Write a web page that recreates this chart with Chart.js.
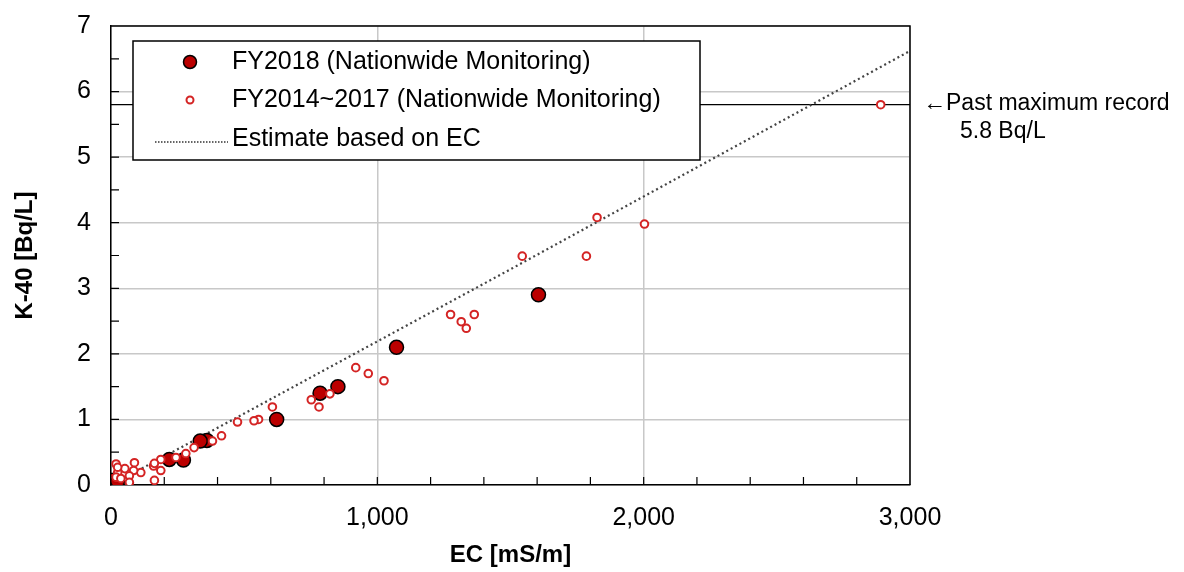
<!DOCTYPE html>
<html>
<head>
<meta charset="utf-8">
<script src="https://cdn.jsdelivr.net/npm/chart.js@4/dist/chart.umd.min.js"></script>
<style>
    html, body { margin: 0; padding: 0; background: #fff; }
    #wrap { width: 1184px; height: 572px; }
</style>
</head>
<body>
<div id="wrap"><canvas id="grafico"></canvas></div>
<script>
const fy2018EC = [1605, 1072, 852, 785, 622, 360, 335, 272, 219, 6, 12, 19, 25];
const fy2018K = [2.9, 2.1, 1.5, 1.4, 1.0, 0.68, 0.67, 0.38, 0.39, 0.07, 0.03, 0.04, 0.06];

const pastEC = [2890, 2003, 1825, 1785, 1544, 1364, 1334, 1315, 1275, 1025, 966, 919, 822, 781, 752, 606, 554, 537, 475, 415, 381, 312, 281, 244, 187, 187, 160, 163, 163, 112, 88, 85, 69, 52, 25, 19, 19, 25, 37, 69];
const pastK = [5.8, 3.98, 4.08, 3.49, 3.49, 2.6, 2.39, 2.49, 2.6, 1.59, 1.7, 1.79, 1.39, 1.19, 1.3, 1.19, 1.0, 0.98, 0.96, 0.75, 0.67, 0.57, 0.48, 0.42, 0.39, 0.22, 0.29, 0.07, 0.33, 0.19, 0.34, 0.22, 0.14, 0.25, 0.19, 0.32, 0.12, 0.27, 0.10, 0.04];

const estimateEC = [0, 500, 1000, 1500, 2000, 2500, 3000];
const estimateK = [0, 1.09, 2.19, 3.29, 4.40, 5.51, 6.62];

const maxRecordEC = [0, 3000];
const maxRecordK = [5.8, 5.8];

const xTicks = [0, 1000, 2000, 3000];
const yTicks = [0, 1, 2, 3, 4, 5, 6, 7];

const legendLabels = ['FY2018 (Nationwide Monitoring)', 'FY2014~2017 (Nationwide Monitoring)', 'Estimate based on EC'];
const noteLines = ['\u2190Past maximum record', '5.8 Bq/L'];

const FONT = '"Liberation Sans", Arial, sans-serif';
const RED_FILL = '#bb0000';
const RED_RING = '#d42424';

function toPoints(xs, ys) {
    return xs.map((x, i) => ({ x, y: ys[i] }));
}

// marco superior/derecho y ticks menores hacia adentro
const framePlugin = {
    id: 'frame',
    beforeDatasetsDraw(chart) {
        const { ctx, chartArea: a, scales } = chart;
        ctx.save();
        ctx.strokeStyle = '#000';
        ctx.lineWidth = 1.5;
        ctx.beginPath();
        ctx.moveTo(a.left, a.top);
        ctx.lineTo(a.right, a.top);
        ctx.lineTo(a.right, a.bottom);
        ctx.stroke();

        ctx.lineWidth = 1.2;
        ctx.beginPath();
        for (let v = 200; v < 3000; v += 200) {
            const px = scales.x.getPixelForValue(v);
            ctx.moveTo(px, a.bottom);
            ctx.lineTo(px, a.bottom - 8);
        }
        for (let v = 0.5; v < 7; v += 0.5) {
            const py = scales.y.getPixelForValue(v);
            ctx.moveTo(a.left, py);
            ctx.lineTo(a.left + 8, py);
        }
        ctx.stroke();
        ctx.restore();
    }
};

const legendBoxPlugin = {
    id: 'legendBox',
    afterDatasetsDraw(chart) {
        const { ctx } = chart;
        const box = { x: 133, y: 41, w: 567, h: 119 };
        const rows = [62, 100, 139];
        ctx.save();
        ctx.fillStyle = '#fff';
        ctx.fillRect(box.x, box.y, box.w, box.h);
        ctx.strokeStyle = '#000';
        ctx.lineWidth = 1.5;
        ctx.strokeRect(box.x, box.y, box.w, box.h);

        // FY2018
        ctx.beginPath();
        ctx.arc(190, rows[0], 6.5, 0, Math.PI * 2);
        ctx.fillStyle = RED_FILL;
        ctx.fill();
        ctx.lineWidth = 1.5;
        ctx.strokeStyle = '#000';
        ctx.stroke();

        // FY2014~2017
        ctx.beginPath();
        ctx.arc(190, rows[1], 3.5, 0, Math.PI * 2);
        ctx.fillStyle = '#fff';
        ctx.fill();
        ctx.lineWidth = 2;
        ctx.strokeStyle = RED_RING;
        ctx.stroke();

        // linea punteada
        ctx.beginPath();
        ctx.setLineDash([1.5, 1.5]);
        ctx.lineWidth = 1.5;
        ctx.strokeStyle = '#333';
        ctx.moveTo(155, rows[2] + 3);
        ctx.lineTo(228, rows[2] + 3);
        ctx.stroke();
        ctx.setLineDash([]);

        ctx.fillStyle = '#000';
        ctx.font = '25px ' + FONT;
        ctx.textBaseline = 'middle';
        ctx.textAlign = 'left';
        legendLabels.forEach((txt, i) => ctx.fillText(txt, 232, rows[i]));
        ctx.restore();
    }
};

const notePlugin = {
    id: 'note',
    afterDraw(chart) {
        const { ctx, chartArea: a, scales } = chart;
        const y = scales.y.getPixelForValue(5.8);
        ctx.save();
        ctx.fillStyle = '#000';
        ctx.font = '23px ' + FONT;
        ctx.textBaseline = 'middle';
        ctx.textAlign = 'left';
        ctx.fillText(noteLines[0], a.right + 13, y - 1);
        ctx.fillText(noteLines[1], a.right + 50, y + 27);
        ctx.restore();
    }
};

const chart = new Chart(document.getElementById('grafico'), {
    type: 'scatter',
    data: {
        datasets: [
            {
                label: legendLabels[1],
                data: toPoints(pastEC, pastK),
                pointRadius: 3.8,
                pointBackgroundColor: '#fff',
                pointBorderColor: RED_RING,
                pointBorderWidth: 2,
                order: 0
            },
            {
                label: legendLabels[0],
                data: toPoints(fy2018EC, fy2018K),
                pointRadius: 7,
                pointBackgroundColor: RED_FILL,
                pointBorderColor: '#000',
                pointBorderWidth: 1.5,
                order: 1
            },
            {
                label: legendLabels[2],
                data: toPoints(estimateEC, estimateK),
                showLine: true,
                pointRadius: 0,
                borderColor: '#444',
                borderWidth: 2.2,
                borderDash: [2, 3],
                order: 2
            },
            {
                label: 'max',
                data: toPoints(maxRecordEC, maxRecordK),
                showLine: true,
                pointRadius: 0,
                borderColor: '#000',
                borderWidth: 1.2,
                order: 3
            }
        ]
    },
    options: {
        responsive: true,
        maintainAspectRatio: false,
        animation: false,
        layout: { padding: { top: 26, right: 274, left: 0, bottom: 0 } },
        plugins: {
            legend: { display: false },
            tooltip: { enabled: false }
        },
        scales: {
            x: {
                type: 'linear',
                min: 0,
                max: 3000,
                afterBuildTicks: (s) => { s.ticks = xTicks.map((v) => ({ value: v })); },
                afterFit: (s) => { s.height = 87; },
                grid: { color: '#c8c8c8', lineWidth: 1.5, drawTicks: false },
                border: { color: '#000', width: 1.5 },
                ticks: {
                    color: '#000',
                    padding: 18,
                    font: { family: FONT, size: 25 },
                    callback: (v) => v.toLocaleString('en-US')
                },
                title: {
                    display: true,
                    text: 'EC [mS/m]',
                    color: '#000',
                    font: { family: FONT, size: 24, weight: 'bold' },
                    padding: { top: 0, bottom: 2 }
                }
            },
            y: {
                type: 'linear',
                min: 0,
                max: 7,
                afterBuildTicks: (s) => { s.ticks = yTicks.map((v) => ({ value: v })); },
                afterFit: (s) => {
                    s.width = 111;
                    // sin relleno extra por la etiqueta del 7
                    s.paddingTop = 0;
                    s.paddingBottom = 0;
                },
                grid: { color: '#c8c8c8', lineWidth: 1.5, drawTicks: false },
                border: { color: '#000', width: 1.5 },
                ticks: {
                    color: '#000',
                    padding: 20,
                    font: { family: FONT, size: 25 }
                },
                title: {
                    display: true,
                    text: 'K-40 [Bq/L]',
                    color: '#000',
                    font: { family: FONT, size: 24, weight: 'bold' },
                    padding: { top: 11, bottom: 0 }
                }
            }
        }
    },
    plugins: [framePlugin, legendBoxPlugin, notePlugin]
});
</script>
</body>
</html>
